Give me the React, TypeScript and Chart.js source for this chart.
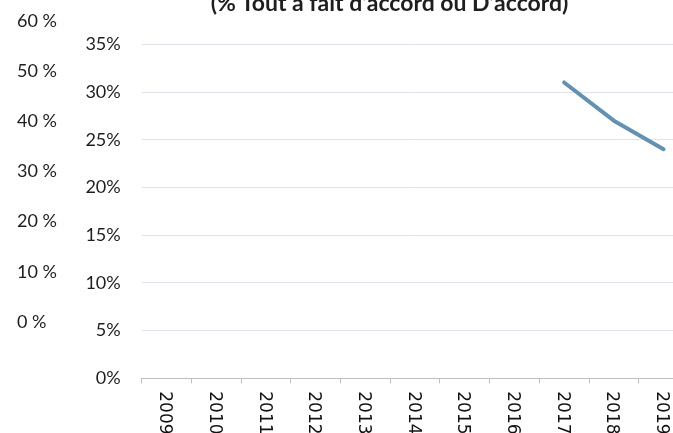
import React, { useEffect, useRef } from "react";
import { Chart, registerables } from "chart.js";

Chart.register(...registerables);

const years: string[] = ["2009", "2010", "2011", "2012", "2013", "2014", "2015", "2016", "2017", "2018", "2019"];
const agreeShare: (number | null)[] = [null, null, null, null, null, null, null, null, 31, 27, 24];
const innerAxisMax = 35;
const innerAxisStep = 5;
const outerAxisMax = 60;
const outerAxisStep = 10;
const titleText = "(% Tout à fait d’accord ou D’accord)";

const LINE_COLOR = "#6391b1";
const GRID_COLOR = "#e2e2ea";
const AXIS_COLOR = "#bfbfbf";
const TEXT_COLOR = "#1e1e1e";

const rotatedLabels = {
  id: "rotatedLabels",
  afterDraw(chart: any) {
    const xs = chart.scales.x;
    const ctx = chart.ctx;
    ctx.save();
    ctx.font = '17px "DejaVu Sans", Verdana, sans-serif';
    ctx.fillStyle = "#111";
    ctx.textAlign = "left";
    ctx.textBaseline = "middle";
    years.forEach((label, i) => {
      const px = xs.getPixelForTick(i);
      ctx.save();
      ctx.translate(px - 2, xs.top + 13);
      ctx.rotate(Math.PI / 2);
      ctx.fillText(label, 0, 0);
      ctx.restore();
    });
    ctx.restore();
  },
};

export default function App() {
  const mainRef = useRef<HTMLCanvasElement | null>(null);
  const outerRef = useRef<HTMLCanvasElement | null>(null);

  useEffect(() => {
    if (!mainRef.current || !outerRef.current) return;
    const main = new Chart(mainRef.current, {
      type: "line",
      data: {
        labels: years,
        datasets: [
          {
            data: agreeShare,
            borderColor: LINE_COLOR,
            backgroundColor: LINE_COLOR,
            borderWidth: 4,
            pointRadius: 0,
            borderCapStyle: "round",
            borderJoinStyle: "round",
            tension: 0,
            spanGaps: false,
          },
        ],
      },
      options: {
        responsive: false,
        animation: false,
        layout: { padding: { top: 44.3, right: 11.6, bottom: 0, left: 0 } },
        plugins: { legend: { display: false }, tooltip: { enabled: false }, title: { display: false } },
        scales: {
          x: {
            offset: true,
            grid: { offset: true, drawOnChartArea: false, drawTicks: true, tickLength: 5, color: AXIS_COLOR },
            border: { color: AXIS_COLOR },
            ticks: { display: false },
            afterFit: (s: any) => {
              s.height = 54.7;
            },
          },
          y: {
            min: 0,
            max: innerAxisMax,
            ticks: {
              stepSize: innerAxisStep,
              callback: (v: any) => v + "%",
              font: { family: "Lato", size: 18 },
              color: TEXT_COLOR,
              padding: 21,
            },
            grid: { color: GRID_COLOR, drawTicks: false },
            border: { display: false },
            afterFit: (s: any) => {
              s.width = 141.7;
            },
          },
        },
      },
      plugins: [rotatedLabels],
    } as any);

    const outer = new Chart(outerRef.current, {
      type: "line",
      data: { labels: [], datasets: [] },
      options: {
        responsive: false,
        animation: false,
        layout: { padding: { top: 21, bottom: 111, left: 17, right: 0 } },
        plugins: { legend: { display: false }, tooltip: { enabled: false } },
        scales: {
          x: { display: false },
          y: {
            min: 0,
            max: outerAxisMax,
            ticks: {
              stepSize: outerAxisStep,
              callback: (v: any) => v + " %",
              font: { family: "Lato", size: 18 },
              color: TEXT_COLOR,
              crossAlign: "far",
            },
            grid: { display: false },
            border: { display: false },
            afterFit: (s: any) => {
              s.width = 50;
            },
          },
        },
      },
    } as any);

    return () => {
      main.destroy();
      outer.destroy();
    };
  }, []);

  return (
    <div
      style={{
        position: "fixed",
        left: 0,
        top: 0,
        width: 673,
        height: 433,
        overflow: "hidden",
        background: "#fff",
      }}
    >
      <canvas ref={mainRef} width={700} height={433} style={{ position: "absolute", left: 0, top: 0, display: "block" }} />
      <canvas ref={outerRef} width={70} height={433} style={{ position: "absolute", left: 0, top: 0, display: "block" }} />
      <div
        style={{
          position: "absolute",
          left: 0,
          top: -9.5,
          width: 779,
          textAlign: "center",
          fontFamily: "Lato",
          fontWeight: 700,
          fontSize: 23,
          lineHeight: "23px",
          color: TEXT_COLOR,
          whiteSpace: "nowrap",
        }}
      >
        {titleText}
      </div>
    </div>
  );
}
